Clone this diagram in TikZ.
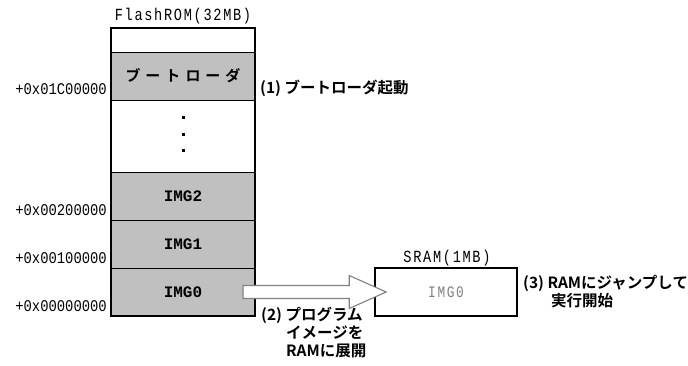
\documentclass[tikz,border=0pt]{standalone}
\usepackage{fontspec}
\setmainfont{Liberation Mono}
\newfontfamily\jp{Noto Sans CJK JP}[BoldFont={Noto Sans CJK JP Bold}]
\newfontfamily\mono{Liberation Mono}[FakeStretch=0.85]
\newfontfamily\monob{Liberation Mono}
\newfontfamily\monot{Liberation Mono}[FakeStretch=0.8,LetterSpace=10]
\usetikzlibrary{calc}
\definecolor{cellgray}{HTML}{C0C0C0}
\definecolor{arrgray}{HTML}{808080}
\begin{document}
\begin{tikzpicture}[x=1pt,y=-1pt,
  cell/.style={draw=black, line width=0.9pt, minimum width=144pt, inner sep=0pt, outer sep=0pt},
  graycell/.style={cell, fill=cellgray},
  imgtxt/.style={font=\monob\bfseries\fontsize{16}{16}\selectfont},
  addr/.style={anchor=east, inner sep=0pt, font=\mono\fontsize{16.3}{16.3}\selectfont},
  ttl/.style={inner sep=0pt, font=\monot\fontsize{17}{17}\selectfont},
  note/.style={anchor=west, align=left, inner sep=0pt, font=\jp\bfseries\fontsize{15.5}{18}\selectfont},
  bigarrow/.style={draw=arrgray, line width=1.1pt, fill=white, line join=miter}
]
\useasboundingbox (0,0) rectangle (688,366);
\fill[white] (0,0) rectangle (688,366);

% Flash ROM
\node[ttl] (ftitle) at (183,16) {FlashROM(32MB)};
\node[cell, minimum height=24pt] (top) at (183,40) {};
\node[graycell, minimum height=48pt, font=\jp\bfseries\fontsize{15}{15}\selectfont] (boot) at (183,76) {ブ\hspace{5pt}ー\hspace{5pt}ト\hspace{5pt}ロ\hspace{5pt}ー\hspace{5pt}ダ};
\node[cell, minimum height=72pt] (gap) at (183,136) {};
\node[graycell, minimum height=48pt, imgtxt] (img2) at (183,196) {IMG2};
\node[graycell, minimum height=48pt, imgtxt] (img1) at (183,244) {IMG1};
\node[graycell, minimum height=48pt, imgtxt] (img0) at (183,292) {IMG0};
\draw[line width=2pt] (top.north west) rectangle (img0.south east);
\foreach \yy in {118,135,151} \fill ($(gap.center)+(-1.5,\yy-137.5)$) rectangle +(3,3);

% addresses
\node[addr] (a1) at (107,89) {+0x01C00000};
\node[addr] (a2) at (107,210) {+0x00200000};
\node[addr] (a3) at (107,258) {+0x00100000};
\node[addr] (a4) at (107,306) {+0x00000000};

% SRAM
\node[draw=black, line width=1.6pt, minimum width=142pt, minimum height=48pt, inner sep=0pt,
      text=arrgray, font=\monot\fontsize{16}{16}\selectfont] (sram) at (446,292) {IMG0};
\node[ttl] (stitle) at (447,258) {SRAM(1MB)};

% arrow
\draw[bigarrow] ($(img0.east)+(-12,-6.5)$) -- ($(sram.west)+(-25,-6.5)$) -- ($(sram.west)+(-25,-16.5)$)
  -- ($(sram.west)+(12,0)$) -- ($(sram.west)+(-25,16.5)$) -- ($(sram.west)+(-25,6.5)$)
  -- ($(img0.east)+(-12,6.5)$) -- cycle;

% notes
\node[note] (n1) at (260,88) {(1) ブートローダ起動};
\node[note] (n2) at (261,333) {(2) プログラム\\\hspace*{25pt}イメージを\\\hspace*{25pt}RAMに展開};
\node[note] (n3) at (523,292) {(3) RAMにジャンプして\\\hspace*{28pt}実行開始};
\end{tikzpicture}
\end{document}
